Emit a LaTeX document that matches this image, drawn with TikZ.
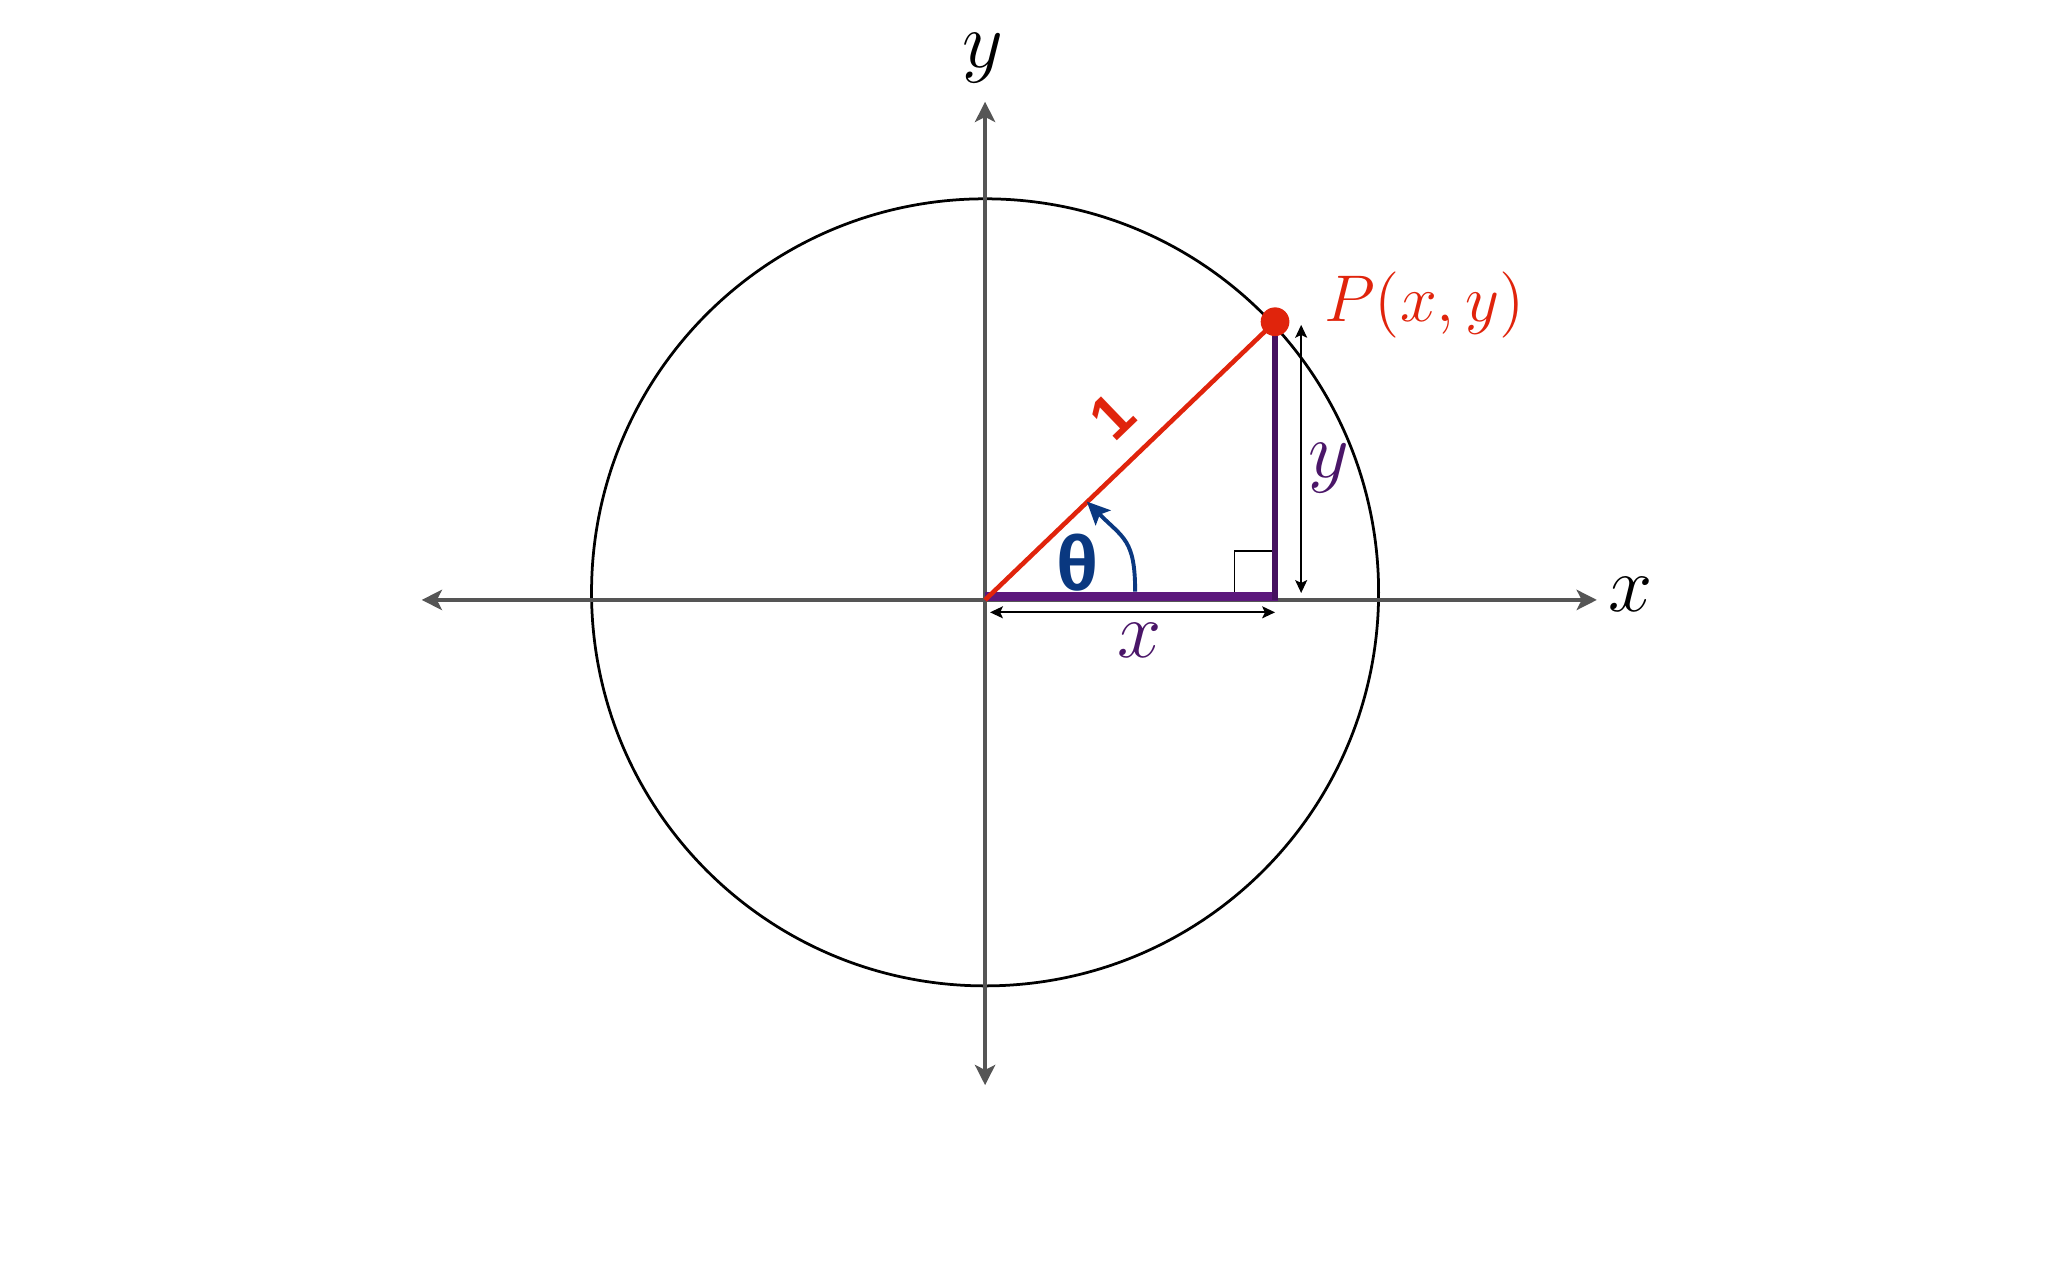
\documentclass[tikz,border=0pt]{standalone}
\usepackage{fontspec}
\setmainfont{Liberation Serif}
\newfontfamily\labelsans{Liberation Sans}
\usetikzlibrary{arrows.meta}
\definecolor{axisgray}{RGB}{85,85,85}
\definecolor{ptred}{RGB}{224,36,12}
\definecolor{legpurple}{RGB}{92,24,124}
\definecolor{legdark}{RGB}{70,18,96}
\definecolor{labpurple}{RGB}{74,22,104}
\definecolor{angblue}{RGB}{10,56,128}
\tikzset{
  axis/.style={draw=axisgray,line width=0.9pt,
    {Stealth[length=4.4pt,width=4.4pt,inset=1.1pt]}-{Stealth[length=4.4pt,width=4.4pt,inset=1.1pt]}},
  unitcircle/.style={draw=black,line width=0.6pt},
  hypot/.style={draw=ptred,line width=1pt},
  legh/.style={draw=legpurple,line width=1.9pt},
  legv/.style={draw=legdark,line width=1.5pt},
  dimline/.style={draw=black,line width=0.4pt,
    {Stealth[length=2.8pt,width=2.6pt,inset=0.6pt]}-{Stealth[length=2.8pt,width=2.6pt,inset=0.6pt]}},
  rightmark/.style={draw=black,line width=0.4pt},
  anglearrow/.style={draw=angblue,line width=0.85pt,-{Stealth[length=5pt,width=4.6pt,inset=1pt]}},
  ptdot/.style={fill=ptred},
  axislabel/.style={inner sep=0pt,anchor=base,font=\fontsize{17}{19}\selectfont},
  leglabel/.style={inner sep=0pt,anchor=base,text=labpurple,font=\fontsize{17.5}{19}\selectfont},
  ptlabel/.style={inner sep=0pt,anchor=base west,text=ptred,font=\fontsize{15.5}{18}\selectfont},
  anglelabel/.style={inner sep=0pt,text=angblue,font=\fontsize{17}{19}\selectfont\labelsans\bfseries},
  unitlabel/.style={inner sep=0pt,text=ptred,font=\fontsize{13.5}{16}\selectfont\labelsans\bfseries}
}
\begin{document}
\begin{tikzpicture}
    \useasboundingbox (-7.542,-5.207) rectangle (8.138,4.593);
    \coordinate (O) at (0,0);
    \coordinate (C) at (0,0.058);
    \coordinate (xl) at (-4.313,0);
    \coordinate (xr) at (4.684,0);
    \coordinate (yt) at (0,3.814);
    \coordinate (yb) at (0,-3.715);
    \coordinate (P) at (2.22,2.13);
    \coordinate (F) at (2.22,0);
    \coordinate (sq) at (1.91,0.377);
    \coordinate (ta) at (1.149,0.064);
    \coordinate (tb) at (0.779,0.753);
    \coordinate (dxa) at (0.038,-0.095);
    \coordinate (dxb) at (2.22,-0.095);
    \coordinate (dya) at (2.42,2.106);
    \coordinate (dyb) at (2.42,0.053);
    \draw[unitcircle] (C) circle (3.013);
    \draw[axis] (xl) -- (xr);
    \draw[axis] (yb) -- (yt);
    \draw[rightmark] (sq |- O) -- (sq) -- (sq -| F);
    \draw[legh] ([yshift=0.25mm]O) -- ([yshift=0.25mm,xshift=0.26mm]F);
    \draw[legv] (F) -- (P);
    \draw[hypot] (O) -- (P);
    \fill[ptdot] (P) circle (0.11);
    \draw[anglearrow] (ta) to[out=90,in=-45,looseness=1.3] (tb);
    \draw[dimline] (dxa) -- (dxb);
    \draw[dimline] (dya) -- (dyb);
    \node[axislabel] (xname) at (4.94,-0.092) {$x$};
    \node[axislabel] (yname) at (-0.02,4.08) {$y$};
    \node[leglabel] (xleg) at (1.18,-0.444) {$x$};
    \node[leglabel] (yleg) at (2.63,0.934) {$y$};
    \node[ptlabel] (Pname) at (2.59,2.13) {$P(x,y)$};
    \node[anglelabel] (theta) at (0.708,0.287) {θ};
    \node[unitlabel,rotate=43.9] (one) at (0.970,1.403) {1};
\end{tikzpicture}
\end{document}
